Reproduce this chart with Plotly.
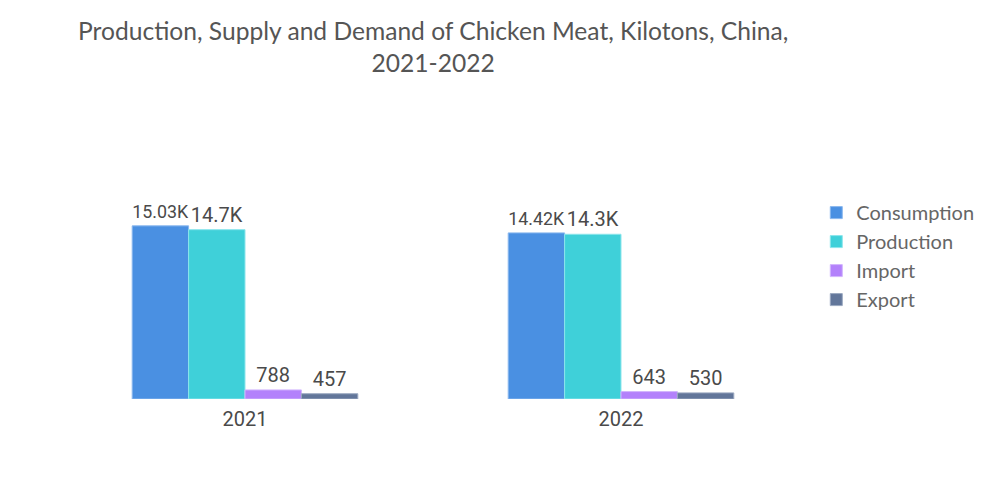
import plotly.graph_objects as go

years = ["2021", "2022"]
series = ["Consumption", "Production", "Import", "Export"]
consumption = [15030, 14420]
production = [14700, 14300]
imports = [788, 643]
exports = [457, 530]

colors = ["#4a90e2", "#3fd0d9", "#b381fb", "#62769a"]
edges = ["#8ab8ee", "#8ce6ec", "#d2b5fd", "#9aa8c0"]


def fmt(v):
    if v >= 1000:
        return f"{v / 1000:.2f}".rstrip("0").rstrip(".") + "K"
    return str(v)


fig = go.Figure()
for name, vals, c, e in zip(series, [consumption, production, imports, exports], colors, edges):
    fig.add_trace(go.Bar(
        x=years, y=vals, name=name,
        marker=dict(color=c, line=dict(color=e, width=1)),
        text=[fmt(v) for v in vals], textposition="outside",
        textfont=dict(family="Roboto", size=20, color="#4a4a4a"),
        cliponaxis=False,
    ))

fig.add_annotation(
    text="Production, Supply and Demand of Chicken Meat, Kilotons, China,<br>2021-2022",
    xref="paper", yref="paper", x=0.5, y=(399 - 14) / 279,
    xanchor="center", yanchor="top", showarrow=False, align="center",
    font=dict(family="Lato", size=24.6, color="#555555"),
)

fig.update_layout(
    width=1000, height=504,
    paper_bgcolor="white", plot_bgcolor="white",
    barmode="group", bargap=0.4, bargroupgap=0,
    margin=dict(l=49, r=199, t=112, b=113, autoexpand=False),
    legend=dict(
        x=1.0097, xanchor="left", y=0.738, yanchor="top",
        font=dict(family="Lato", size=20, color="#666666"),
        tracegroupgap=4, itemwidth=30,
    ),
    xaxis=dict(showline=False, showgrid=False, ticks="", ticklabelstandoff=6,
               tickfont=dict(family="Roboto", size=20, color="#4a4a4a")),
    yaxis=dict(visible=False, range=[0, 24220]),
)

fig.write_html("out.html")
